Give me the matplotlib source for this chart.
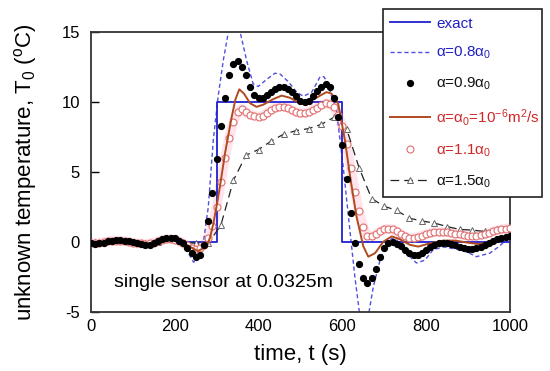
import numpy as np
import matplotlib
matplotlib.use('Agg')
import matplotlib.pyplot as plt

plt.rcParams['font.family'] = ['Liberation Sans', 'DejaVu Sans']
plt.rcParams['mathtext.fontset'] = 'custom'
plt.rcParams['mathtext.rm'] = 'Liberation Sans'
plt.rcParams['mathtext.it'] = 'Liberation Sans'
plt.rcParams['axes.unicode_minus'] = False

# exact step
t_exact = [0, 300, 300, 600, 600, 1000]
T_exact = [0, 0, 10, 10, 0, 0]

# alpha = 0.8 alpha0 (dashed)
t_08 = [0, 30, 60, 90, 130, 160, 185, 205, 225, 245, 258, 268, 280, 292, 304, 316, 328, 340, 350,
        356, 372, 387, 399, 419, 439, 451, 471, 491, 507, 527, 547, 556, 566, 578, 586, 602, 618,
        630, 642, 652, 662, 674, 690, 706, 718, 730, 753, 777, 797, 817, 841, 870, 897, 920, 952,
        975, 1000]
T_08 = [-0.15, -0.1, 0.2, 0.1, -0.25, 0.0, 0.5, 0.35, -0.4, -1.45, -1.0, -0.1, 2.5, 7.3, 10.5, 13.0,
        15.0, 16.3, 15.8, 15.0, 12.9, 11.3, 11.1, 11.6, 12.05, 12.0, 11.45, 10.7, 10.4, 10.7, 11.8,
        11.8, 11.3, 10.0, 9.4, 5.4, 0.85, -2.5, -5.3, -6.3, -5.3, -3.2, -1.3, -0.1, 0.25, 0.15, -0.8,
        -1.5, -1.3, -0.55, -0.35, -0.5, -0.7, -1.05, -0.8, -0.3, 0.4]

# alpha = 0.9 alpha0 (filled dots, every 10 s)
t_09 = list(range(0, 1001, 10))
T_09 = [-0.1, -0.15, -0.1, -0.05, 0.05, 0.1, 0.15, 0.15, 0.1, 0.05, 0.0, -0.1, -0.15, -0.2, -0.2,
        -0.1, 0.05, 0.2, 0.3, 0.3, 0.25, 0.1, -0.1, -0.4, -0.8, -1.05, -0.95, -0.2, 1.5, 3.5, 5.9,
        8.3, 10.3, 11.9, 12.7, 12.9, 12.5, 11.9, 11.1, 10.5, 10.3, 10.3, 10.5, 10.7, 10.9, 11.05,
        11.05, 10.9, 10.7, 10.4, 10.1, 10.0, 10.1, 10.4, 10.8, 11.1, 11.3, 11.1, 10.3, 8.9, 6.9,
        4.5, 2.05, -0.1, -1.6, -2.6, -2.9, -2.55, -1.9, -1.1, -0.45, -0.1, 0.0, -0.15, -0.3, -0.55,
        -0.8, -0.9, -0.9, -0.8, -0.55, -0.35, -0.2, -0.1, -0.1, -0.1, -0.15, -0.25, -0.35, -0.45,
        -0.5, -0.5, -0.45, -0.35, -0.2, -0.05, 0.1, 0.2, 0.3, 0.35, 0.4]

# alpha = alpha0 (solid red)
t_10 = [0, 40, 70, 100, 130, 150, 180, 200, 220, 240, 255, 268, 276, 284, 292, 300, 308, 320, 336,
        345, 354, 365, 380, 395, 411, 435, 455, 475, 499, 513, 535, 562, 574, 590, 606, 620, 634,
        650, 662, 678, 698, 718, 737, 761, 781, 809, 841, 870, 900, 925, 955, 980, 1000]
T_10 = [-0.05, 0.05, 0.1, 0.0, -0.15, -0.05, 0.2, 0.2, -0.05, -0.4, -0.65, -0.45, -0.3, 0.3, 1.3,
        2.6, 4.0, 6.35, 8.95, 10.2, 10.9, 10.6, 9.9, 9.65, 9.8, 10.2, 10.45, 10.3, 9.9, 9.8, 10.25,
        10.7, 10.6, 9.9, 7.3, 4.4, 1.8, -0.3, -1.05, -0.8, 0.02, 0.4, 0.2, -0.2, -0.33, -0.1, 0.1,
        0.1, -0.05, -0.15, 0.0, 0.2, 0.35]

# alpha = 1.1 alpha0 (open circles, every 10 s)
t_11 = list(range(0, 1001, 10))
T_11 = [-0.05, -0.1, -0.05, 0.0, 0.05, 0.1, 0.1, 0.1, 0.05, 0.0, -0.05, -0.1, -0.1, -0.15, -0.1,
        -0.05, 0.05, 0.15, 0.2, 0.2, 0.15, 0.05, -0.1, -0.25, -0.4, -0.5, -0.45, -0.2, 0.3, 1.15,
        2.5, 4.25, 6.0, 7.45, 8.6, 9.25, 9.5, 9.25, 9.1, 9.0, 8.95, 9.0, 9.2, 9.4, 9.6, 9.65, 9.65,
        9.6, 9.4, 9.25, 9.2, 9.2, 9.3, 9.45, 9.6, 9.8, 9.9, 9.85, 9.65, 9.1, 8.3, 7.0, 5.3, 3.6,
        2.2, 1.1, 0.4, 0.4, 0.55, 0.75, 0.9, 0.95, 0.9, 0.75, 0.55, 0.4, 0.3, 0.3, 0.35, 0.45, 0.55,
        0.65, 0.7, 0.7, 0.7, 0.7, 0.65, 0.6, 0.55, 0.5, 0.45, 0.45, 0.45, 0.5, 0.55, 0.65, 0.75,
        0.85, 0.9, 0.95, 1.0]

# alpha = 1.5 alpha0 (triangles, every 30 s)
t_15 = list(range(10, 1001, 30))
T_15 = [0.0, 0.05, 0.1, 0.0, -0.1, 0.0, 0.2, 0.0, -0.1, -0.1, 1.2, 4.4, 6.2, 6.6, 7.2, 7.7, 7.95,
        8.1, 8.4, 8.9, 8.1, 5.3, 3.1, 2.55, 2.25, 1.7, 1.5, 1.35, 1.1, 0.9, 0.85, 0.75, 0.95, 1.0]

fig = plt.figure(figsize=(5.5, 3.71), dpi=100)
ax = fig.add_axes([0.1655, 0.159, 0.7615, 0.755])

ax.plot(t_11, T_11, color='#ffe4ec', lw=7, zorder=1, solid_capstyle='round')
l_exact, = ax.plot(t_exact, T_exact, color='#2020d0', lw=1.3, zorder=3)
l_08, = ax.plot(t_08, T_08, color='#5050e0', lw=1.0, ls=(0, (3, 2)), zorder=2)
l_15, = ax.plot(t_15, T_15, color='#222222', lw=0.9, ls=(0, (7, 4)), marker='^', ms=4.5,
                mfc='white', mec='#666666', mew=0.7, zorder=3)
l_11, = ax.plot(t_11, T_11, ls='none', marker='o', ms=5, mfc='white', mec='#e07070',
                mew=0.8, zorder=4)
l_10, = ax.plot(t_10, T_10, color='#b04a20', lw=1.4, zorder=5)
l_09, = ax.plot(t_09, T_09, ls='none', marker='o', ms=4.2, color='black', zorder=6)

ax.set_xlim(0, 1000)
ax.set_ylim(-5, 15)
ax.set_xticks(range(0, 1001, 200))
ax.set_yticks(range(-5, 16, 5))
ax.tick_params(axis='y', direction='in', length=6, width=1, labelsize=12, pad=8)
ax.tick_params(axis='x', length=0, labelsize=12, pad=5)
for s in ax.spines.values():
    s.set_linewidth(1.3)
    s.set_color('#333333')

ax.set_xlabel('time, t (s)', fontsize=16, labelpad=7)
ax.set_ylabel(r'unknown temperature, T$_0$ ($^{\rm o}$C)', fontsize=16, labelpad=16)
ax.text(0.315, 0.104, 'single sensor at 0.0325m', transform=ax.transAxes, fontsize=14,
        ha='center', va='center')

labels = ['exact', r'$\alpha$=0.8$\alpha_0$', r'$\alpha$=0.9$\alpha_0$',
          r'$\alpha$=$\alpha_0$=10$^{-6}$m$^2$/s', r'$\alpha$=1.1$\alpha_0$',
          r'$\alpha$=1.5$\alpha_0$']
colors = ['#2020c0', '#2020c0', '#111111', '#d02828', '#d02828', '#111111']
leg = fig.legend([l_exact, l_08, l_09, l_10, l_11, l_15], labels,
                 loc='upper left', bbox_to_anchor=(0.696, 0.472, 0.289, 0.504),
                 mode='expand', borderaxespad=0, fontsize=11, labelspacing=0.95,
                 handlelength=2.6, handletextpad=0.4, borderpad=0.5, fancybox=False,
                 framealpha=1, edgecolor='#222222')
leg.get_frame().set_linewidth(1.2)
for txt, c in zip(leg.get_texts(), colors):
    txt.set_color(c)

fig.savefig('out.png', dpi=100)
